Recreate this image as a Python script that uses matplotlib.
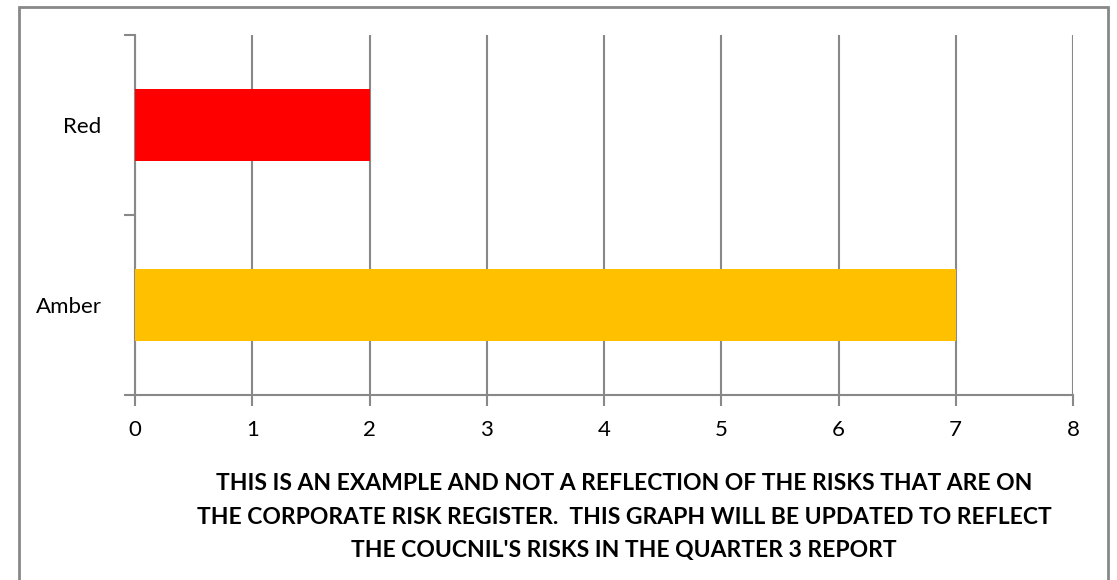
import matplotlib
matplotlib.use("Agg")
import matplotlib.pyplot as plt
import matplotlib.patches as mpatches

# === Data ===
categories = ['Amber', 'Red']
counts = [7, 2]
bar_colors = ['#FFC000', '#FF0000']
x_ticks = [0, 1, 2, 3, 4, 5, 6, 7, 8]
note = ("THIS IS AN EXAMPLE AND NOT A REFLECTION OF THE RISKS THAT ARE ON\n"
        "THE CORPORATE RISK REGISTER.  THIS GRAPH WILL BE UPDATED TO REFLECT\n"
        "THE COUCNIL'S RISKS IN THE QUARTER 3 REPORT")

plt.rcParams['font.family'] = ['Lato', 'DejaVu Sans']

fig = plt.figure(figsize=(11.17, 5.80), dpi=100)
ax = fig.add_axes([135 / 1117, 1 - 395 / 580, (1073 - 135) / 1117, (395 - 35) / 580])

ax.barh(range(len(categories)), counts, height=0.4, color=bar_colors, zorder=3)

ax.set_xlim(0, 8)
ax.set_ylim(-0.5, 1.5)
ax.set_xticks(x_ticks)
ax.set_xticklabels([str(t) for t in x_ticks], fontsize=16)
ax.grid(axis='x', color='#888888', linewidth=1.5, zorder=0)

# category ticks sit on the boundaries, labels in the middle
ax.set_yticks([-0.5, 0.5, 1.5])
ax.set_yticklabels([])
ax.set_yticks(range(len(categories)), minor=True)
ax.set_yticklabels(categories, minor=True, fontsize=16)
ax.tick_params(axis='y', which='minor', length=0, pad=24)
ax.tick_params(axis='y', which='major', length=8, color='#888888', width=1.5, direction='out')
ax.tick_params(axis='x', length=8, color='#888888', width=1.5, direction='out', pad=10)

for s in ['top', 'right']:
    ax.spines[s].set_visible(False)
for s in ['left', 'bottom']:
    ax.spines[s].set_color('#888888')
    ax.spines[s].set_linewidth(1.5)

fig.text(624 / 1117, 1 - 517 / 580, note, ha='center', va='center',
         multialignment='center', fontsize=16.5, fontweight='bold',
         linespacing=1.75)

# outer frame
fig.patches.append(mpatches.Rectangle((19 / 1117, -0.05), (1108 - 19) / 1117, 1.05 - 7 / 580,
                                      transform=fig.transFigure, fill=False,
                                      edgecolor='#888888', linewidth=2))

fig.savefig('out.png', dpi=100)
